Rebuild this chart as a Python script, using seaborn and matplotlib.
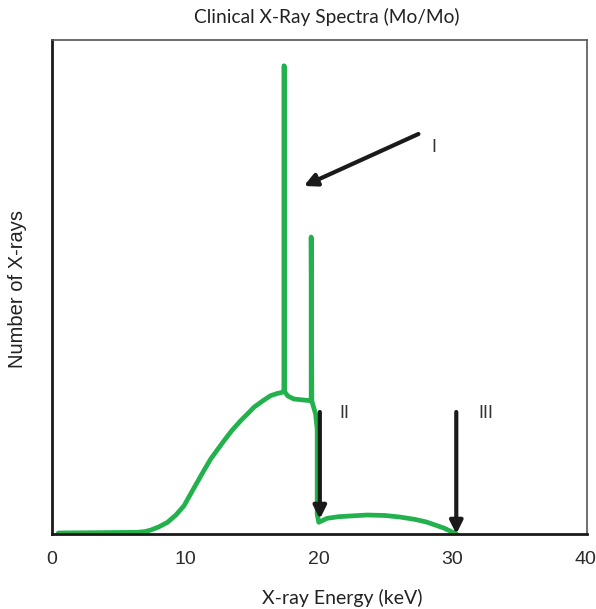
import matplotlib
matplotlib.use("Agg")
import matplotlib.pyplot as plt
import seaborn as sns
import pandas as pd

# Spectrum trace (energy in keV, relative counts)
energy = [0.47, 6.42, 7.0, 7.42, 8.0, 8.67, 9.3, 9.91, 10.4, 10.91, 11.4, 11.91, 12.4,
          12.91, 13.5, 14.16, 14.7, 15.15, 15.8, 16.4, 16.9, 17.23,
          17.42, 17.42, 17.42, 17.7, 18.15, 19.4, 19.45, 19.45, 19.5, 19.78, 19.9,
          19.9, 20.02, 20.65, 21.5, 23.65, 25.0, 26.1, 27.2, 28.1, 29.4, 30.35]
counts = [1, 1.7, 2.5, 4, 7, 11.7, 19, 28.3, 40, 52, 63.5, 75, 84,
          93.3, 103.5, 113.3, 120.5, 126.7, 133, 138.3, 140.5, 141.5,
          143, 468, 143, 138, 135, 133.3, 133.3, 297, 133, 120, 105,
          20, 11.7, 15.7, 17.3, 19, 18.5, 17, 14.7, 12, 6, 0]

xticks = [0, 10, 20, 30, 40]
title = "Clinical X-Ray Spectra (Mo/Mo)"
xlabel = "X-ray Energy (keV)"
ylabel = "Number of X-rays"

# Annotations: label, tail (x, y), head (x, y), label position
ann_labels = ["I", "II", "III"]
ann_tail = [(27.5, 400), (20.1, 122), (30.34, 122)]
ann_head = [(18.9, 348), (20.1, 15), (30.34, 0)]
ann_text_pos = [(28.45, 387), (21.6, 120), (32.0, 120)]

df = pd.DataFrame({"energy": energy, "counts": counts})

sns.set_style("white")
plt.rcParams["font.family"] = ["Liberation Sans", "DejaVu Sans"]

fig = plt.figure(figsize=(5.96, 6.09), dpi=100)
W, H = 596, 609
left, right, top, bottom = 52, 587, 40, 534
ax = fig.add_axes([left / W, 1 - bottom / H, (right - left) / W, (bottom - top) / H])

sns.lineplot(data=df, x="energy", y="counts", sort=False, estimator=None,
             color="#22b14c", lw=3.4, ax=ax, solid_joinstyle="round",
             solid_capstyle="round")

ax.set_xlim(0, 40.15)
ax.set_ylim(0, 494)
ax.set_xticks(xticks)
ax.set_xticklabels([str(t) for t in xticks])
ax.set_yticks([])
ax.set_xlabel("")
ax.set_ylabel("")
ax.tick_params(axis="x", length=0, pad=12, labelsize=14, labelcolor="#2b2b2b")

for side in ["left", "bottom"]:
    ax.spines[side].set_linewidth(2.0)
    ax.spines[side].set_color("#1a1a1a")
for side in ["top", "right"]:
    ax.spines[side].set_linewidth(1.2)
    ax.spines[side].set_color("#555555")

for lab, tail, head, tpos in zip(ann_labels, ann_tail, ann_head, ann_text_pos):
    ax.annotate("", xy=head, xytext=tail,
                arrowprops=dict(arrowstyle="-|>", lw=3.0, color="#1a1a1a",
                                mutation_scale=19, shrinkA=0, shrinkB=0))
    ax.text(tpos[0], tpos[1], lab, fontsize=13, color="#333333",
            ha="left", va="center")

fig.text(327 / W, 1 - 17 / H, title, ha="center", va="center",
         fontsize=13.8, color="#222222", family=["Lato", "DejaVu Sans"])
fig.text(342 / W, 1 - 598 / H, xlabel, ha="center", va="center",
         fontsize=14, color="#222222", family=["Lato", "DejaVu Sans"])
fig.text(18 / W, 1 - 289 / H, ylabel, ha="center", va="center", rotation=90,
         fontsize=14.5, color="#222222")

fig.savefig("out.png", dpi=100)
